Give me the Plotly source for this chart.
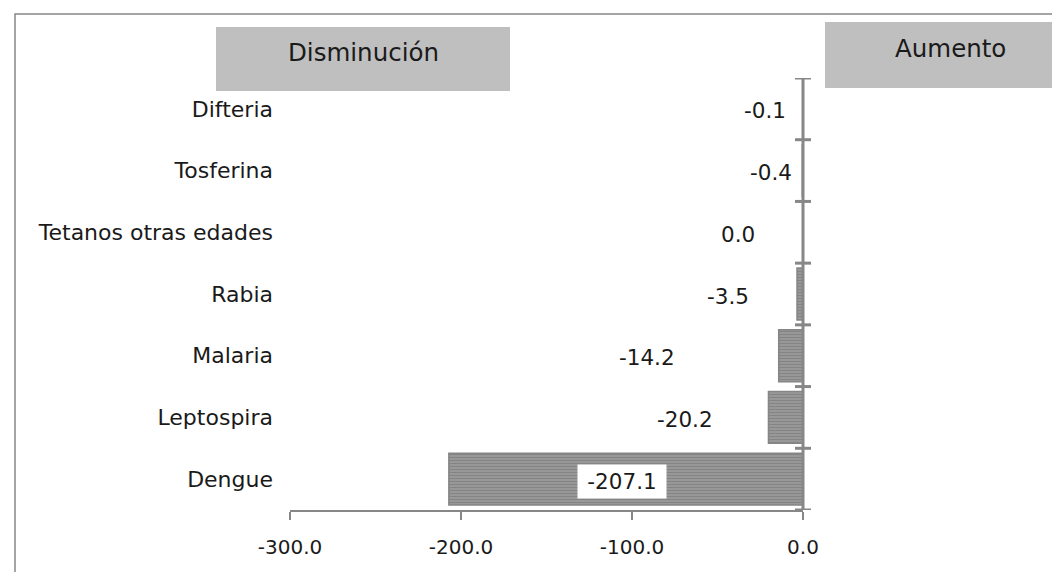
import plotly.graph_objects as go

categories = ["Difteria", "Tosferina", "Tetanos otras edades", "Rabia", "Malaria", "Leptospira", "Dengue"]
values = [-0.1, -0.4, 0.0, -3.5, -14.2, -20.2, -207.1]
value_labels = ["-0.1", "-0.4", "0.0", "-3.5", "-14.2", "-20.2", "-207.1"]
x_ticks = [-300, -200, -100, 0]
x_tick_labels = ["-300.0", "-200.0", "-100.0", "0.0"]

# label placement (x position in axis units, as in the original layout)
label_x = [-22, -19, -38, -44, -91, -69, -106]

W, H = 1060, 572
OFF = 8  # page body margin
L, R, T, B = 290 - OFF, W - (803 - OFF), 78 - OFF, H - (510 - OFF)
pw, ph = W - L - R, H - T - B

def px(sx):
    return (sx - OFF - L) / pw

def py(sy):
    return (H - B - (sy - OFF)) / ph

AX = "#878787"
FONT = "DejaVu Sans, sans-serif"
TXT = "#1a1a1a"

fig = go.Figure()
fig.add_trace(go.Bar(
    y=categories, x=values, orientation="h", width=0.84,
    marker=dict(color="#8e8e8e", line=dict(color="#858585", width=1.5),
                pattern=dict(shape="-", fgcolor="#6e6e6e", bgcolor="#9a9a9a", size=3, solidity=0.4)),
    hoverinfo="skip", showlegend=False,
))

ann = []
for c, lab, lx in zip(categories, value_labels, label_x):
    ann.append(dict(x=lx, y=c, xref="x", yref="y", text=lab, showarrow=False,
                    font=dict(size=21.5, color=TXT, family=FONT), yshift=-2,
                    bgcolor="white" if lab == "-207.1" else None, borderpad=4,
                    width=80 if lab == "-207.1" else None))
ann.append(dict(x=px(363), y=py(52), xref="paper", yref="paper", text="Disminución", showarrow=False,
                xanchor="center", yanchor="middle", font=dict(size=24.5, color=TXT, family=FONT)))
ann.append(dict(x=px(950), y=py(48), xref="paper", yref="paper", text="Aumento", showarrow=False,
                xanchor="center", yanchor="middle", font=dict(size=24.5, color=TXT, family=FONT)))

shapes = [
    dict(type="rect", xref="paper", yref="paper", x0=px(15), x1=px(1090), y0=py(14), y1=py(620),
         line=dict(color=AX, width=1.5), layer="below"),
    dict(type="rect", xref="paper", yref="paper", x0=px(216), x1=px(510), y0=py(91), y1=py(27),
         fillcolor="#bfbfbf", line=dict(width=0), layer="below"),
    dict(type="rect", xref="paper", yref="paper", x0=px(825), x1=px(1090), y0=py(88), y1=py(22),
         fillcolor="#bfbfbf", line=dict(width=0), layer="below"),
    dict(type="line", xref="paper", yref="paper", x0=1, x1=1, y0=0, y1=1, line=dict(color=AX, width=3)),
]
n = len(categories)
for i in range(n + 1):
    yv = i - 0.5
    shapes.append(dict(type="line", xref="paper", yref="y", x0=px(795), x1=px(811), y0=yv, y1=yv,
                       line=dict(color=AX, width=3)))

fig.update_layout(
    width=W, height=H, margin=dict(l=L, r=R, t=T, b=B),
    paper_bgcolor="white", plot_bgcolor="white",
    xaxis=dict(range=[-300, 0], tickvals=x_ticks, ticktext=x_tick_labels, showgrid=False, zeroline=False,
               showline=True, linecolor=AX, linewidth=2, ticks="outside", ticklen=8, tickwidth=2,
               tickcolor=AX, tickfont=dict(size=20, color=TXT, family=FONT), ticklabelstandoff=10,
               fixedrange=True),
    yaxis=dict(categoryorder="array", categoryarray=categories[::-1], range=[-0.5, n - 0.5],
               showgrid=False, zeroline=False, showline=False, ticks="",
               tickfont=dict(size=22, color=TXT, family=FONT), ticklabelstandoff=16, fixedrange=True),
    annotations=ann, shapes=shapes,
)

fig.write_html("out.html")
